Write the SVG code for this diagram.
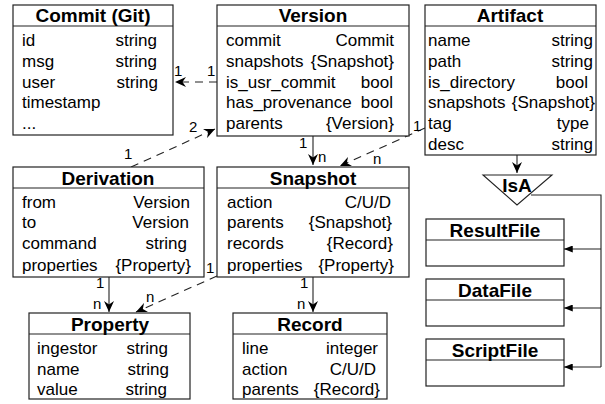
<svg xmlns="http://www.w3.org/2000/svg" width="605" height="404" viewBox="0 0 605 404">
<defs>
<style>
rect.box{fill:#fff;stroke:#222;stroke-width:1.2}
line.sep{stroke:#222;stroke-width:1.2}
text{font-family:"Liberation Sans",Arial,sans-serif;fill:#000}
.t{font-size:19px;font-weight:bold;text-anchor:middle}
.f{font-size:17px}
.v{font-size:17px;text-anchor:end}
.lbl{font-size:15px}
.c{fill:none;stroke:#222;stroke-width:1.1}
.d{stroke-dasharray:8,6}
</style>
<marker id="ah" viewBox="0 0 12 10" refX="11" refY="5" markerWidth="12" markerHeight="10" markerUnits="userSpaceOnUse" orient="auto">
<path d="M0,0 L11,5 L0,10 L3.5,5 z" fill="#000"/>
</marker>
<marker id="tri" viewBox="0 0 10 8" refX="10" refY="4" markerWidth="9" markerHeight="7" markerUnits="userSpaceOnUse" orient="auto">
<path d="M0,0 L10,4 L0,8 z" fill="#000"/>
</marker>
</defs>
<rect width="605" height="404" fill="#fff"/>

<g id="connectors">
<line class="c d" x1="217" y1="82" x2="175" y2="82" marker-end="url(#ah)"/>
<line class="c d" x1="131" y1="167" x2="215" y2="129" marker-end="url(#ah)"/>
<line class="c" x1="313" y1="136" x2="313" y2="165" marker-end="url(#ah)"/>
<line class="c d" x1="425" y1="128" x2="340" y2="166" marker-end="url(#ah)"/>
<line class="c" x1="109" y1="277" x2="109" y2="312" marker-end="url(#ah)"/>
<line class="c d" x1="217" y1="276" x2="136" y2="312" marker-end="url(#ah)"/>
<line class="c" x1="313" y1="277" x2="313" y2="312" marker-end="url(#ah)"/>
<line class="c" x1="517" y1="155" x2="517" y2="173" marker-end="url(#ah)"/>
<polyline class="c" points="531,195 601,195 601,367"/>
<line class="c" x1="601" y1="249" x2="564" y2="249" marker-end="url(#tri)"/>
<line class="c" x1="601" y1="308" x2="564" y2="308" marker-end="url(#tri)"/>
<line class="c" x1="601" y1="367" x2="564" y2="367" marker-end="url(#tri)"/>
<text class="lbl" x="174" y="76">1</text>
<text class="lbl" x="207" y="76">1</text>
<text class="lbl" x="189" y="132">2</text>
<text class="lbl" x="124" y="159">1</text>
<text class="lbl" x="299" y="148">1</text>
<text class="lbl" x="318" y="162">n</text>
<text class="lbl" x="413" y="131">1</text>
<text class="lbl" x="373" y="164">n</text>
<text class="lbl" x="96" y="288">1</text>
<text class="lbl" x="93" y="309">n</text>
<text class="lbl" x="206" y="273">1</text>
<text class="lbl" x="146" y="302">n</text>
<text class="lbl" x="300" y="288">1</text>
<text class="lbl" x="297" y="309">n</text>
</g>

<g id="commit">
<rect class="box" x="13" y="5" width="160" height="130"/>
<line class="sep" x1="13" y1="26" x2="173" y2="26"/>
<text class="t" x="93" y="22">Commit (Git)</text>
<text class="f" x="22" y="46">id</text><text class="v" x="157" y="46">string</text>
<text class="f" x="22" y="67">msg</text><text class="v" x="157" y="67">string</text>
<text class="f" x="22" y="88">user</text><text class="v" x="158" y="88">string</text>
<text class="f" x="22" y="108">timestamp</text>
<text class="f" x="22" y="129">...</text>
</g>

<g id="version">
<rect class="box" x="217" y="5" width="192" height="131"/>
<line class="sep" x1="217" y1="26" x2="409" y2="26"/>
<text class="t" x="313" y="22">Version</text>
<text class="f" x="226" y="46">commit</text><text class="v" x="394" y="46">Commit</text>
<text class="f" x="226" y="67">snapshots</text><text class="v" x="394" y="67">{Snapshot}</text>
<text class="f" x="226" y="88">is_usr_commit</text><text class="v" x="393" y="88">bool</text>
<text class="f" x="226" y="108">has_provenance</text><text class="v" x="393" y="108">bool</text>
<text class="f" x="226" y="129">parents</text><text class="v" x="394" y="129">{Version}</text>
</g>

<g id="artifact">
<rect class="box" x="425" y="5" width="171" height="150"/>
<line class="sep" x1="425" y1="26" x2="596" y2="26"/>
<text class="t" x="510" y="22">Artifact</text>
<text class="f" x="428" y="46">name</text><text class="v" x="593" y="46">string</text>
<text class="f" x="428" y="67">path</text><text class="v" x="593" y="67">string</text>
<text class="f" x="428" y="88">is_directory</text><text class="v" x="588" y="88">bool</text>
<text class="f" x="428" y="108">snapshots</text><text class="v" x="595" y="108">{Snapshot}</text>
<text class="f" x="428" y="129">tag</text><text class="v" x="589" y="129">type</text>
<text class="f" x="428" y="150">desc</text><text class="v" x="593" y="150">string</text>
</g>

<g id="derivation">
<rect class="box" x="13" y="167" width="191" height="110"/>
<line class="sep" x1="13" y1="188" x2="204" y2="188"/>
<text class="t" x="108" y="185">Derivation</text>
<text class="f" x="22" y="208">from</text><text class="v" x="190" y="208">Version</text>
<text class="f" x="22" y="228">to</text><text class="v" x="189" y="228">Version</text>
<text class="f" x="22" y="249">command</text><text class="v" x="187" y="249">string</text>
<text class="f" x="22" y="271">properties</text><text class="v" x="191" y="271">{Property}</text>
</g>

<g id="snapshot">
<rect class="box" x="217" y="167" width="192" height="110"/>
<line class="sep" x1="217" y1="188" x2="409" y2="188"/>
<text class="t" x="313" y="185">Snapshot</text>
<text class="f" x="227" y="208">action</text><text class="v" x="391" y="208">C/U/D</text>
<text class="f" x="227" y="228">parents</text><text class="v" x="392" y="228">{Snapshot}</text>
<text class="f" x="227" y="249">records</text><text class="v" x="393" y="249">{Record}</text>
<text class="f" x="227" y="271">properties</text><text class="v" x="394" y="271">{Property}</text>
</g>

<g id="property">
<rect class="box" x="29" y="313" width="161" height="86"/>
<line class="sep" x1="29" y1="334" x2="190" y2="334"/>
<text class="t" x="110" y="331">Property</text>
<text class="f" x="37" y="354">ingestor</text><text class="v" x="168" y="354">string</text>
<text class="f" x="37" y="375">name</text><text class="v" x="169" y="375">string</text>
<text class="f" x="37" y="395">value</text><text class="v" x="167" y="395">string</text>
</g>

<g id="record">
<rect class="box" x="233" y="313" width="154" height="86"/>
<line class="sep" x1="233" y1="334" x2="387" y2="334"/>
<text class="t" x="310" y="331">Record</text>
<text class="f" x="242" y="354">line</text><text class="v" x="378" y="354">integer</text>
<text class="f" x="242" y="375">action</text><text class="v" x="376" y="375">C/U/D</text>
<text class="f" x="242" y="395">parents</text><text class="v" x="380" y="395">{Record}</text>
</g>

<g id="isa">
<polygon points="483,175 552,175 517,205" fill="#fff" stroke="#222" stroke-width="1.1"/>
<text class="t" x="517" y="192">IsA</text>
</g>

<g id="resultfile">
<rect class="box" x="426" y="219" width="138" height="47"/>
<line class="sep" x1="426" y1="240" x2="564" y2="240"/>
<text class="t" x="495" y="237">ResultFile</text>
</g>

<g id="datafile">
<rect class="box" x="426" y="279" width="138" height="47"/>
<line class="sep" x1="426" y1="300" x2="564" y2="300"/>
<text class="t" x="495" y="297">DataFile</text>
</g>

<g id="scriptfile">
<rect class="box" x="426" y="339" width="138" height="47"/>
<line class="sep" x1="426" y1="360" x2="564" y2="360"/>
<text class="t" x="495" y="357">ScriptFile</text>
</g>
</svg>
